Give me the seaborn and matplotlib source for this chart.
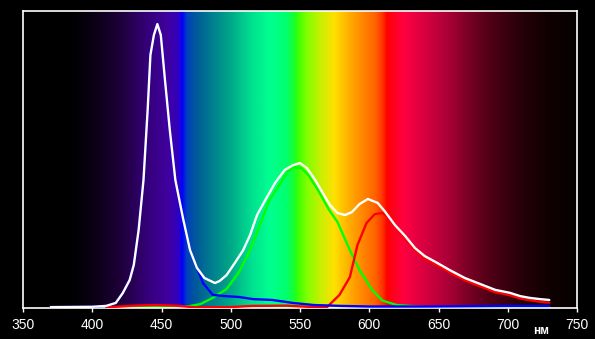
import numpy as np
import pandas as pd
import matplotlib
matplotlib.use("Agg")
import matplotlib.pyplot as plt
import seaborn as sns
from matplotlib.colors import LinearSegmentedColormap, to_rgb

# ---- data (relative intensity, 0..1) ----
white_nm = [370, 400, 410, 417, 422, 427, 430, 433.5, 437, 440, 442, 444.5, 447, 449.5, 452.5, 456, 460,
            465.5, 470.6, 475.6, 481, 488.6, 492, 497, 503, 509, 514, 519, 525, 532, 539, 545, 550, 555, 561,
            566, 571.6, 577, 582.5, 587.5, 593, 599, 606, 611, 618.6, 626, 633, 640, 649, 658, 669, 680,
            691, 701.6, 709, 716, 723, 730]
white_val = [0.003, 0.004, 0.007, 0.017, 0.050, 0.094, 0.145, 0.263, 0.431, 0.667, 0.852, 0.919, 0.956,
             0.919, 0.768, 0.599, 0.431, 0.303, 0.195, 0.135, 0.101, 0.084, 0.091, 0.111, 0.152, 0.195,
             0.246, 0.313, 0.364, 0.421, 0.465, 0.481, 0.488, 0.471, 0.431, 0.391, 0.347, 0.320, 0.313,
             0.323, 0.350, 0.367, 0.354, 0.327, 0.279, 0.242, 0.202, 0.175, 0.152, 0.128, 0.101, 0.081,
             0.061, 0.051, 0.040, 0.034, 0.030, 0.027]

blue_nm = [370, 400, 410, 417, 422, 427, 430, 433.5, 437, 440, 442, 444.5, 447, 449.5, 452.5, 456, 460,
           465.5, 470.6, 475.6, 480, 487, 496, 506, 516, 530, 545, 560, 580, 600, 640, 700, 730]
blue_val = [0.003, 0.004, 0.007, 0.017, 0.050, 0.094, 0.145, 0.263, 0.431, 0.667, 0.852, 0.919, 0.956,
            0.919, 0.768, 0.599, 0.431, 0.303, 0.195, 0.135, 0.084, 0.044, 0.040, 0.037, 0.030, 0.027,
            0.017, 0.010, 0.007, 0.005, 0.005, 0.007, 0.007]

green_nm = [400, 460, 465, 478, 487, 497, 506, 514, 521, 528, 535, 541, 546, 551, 556, 563, 571, 577,
            586, 593, 602, 609.5, 620, 640, 730]
green_val = [0.002, 0.003, 0.002, 0.013, 0.034, 0.064, 0.121, 0.195, 0.279, 0.364, 0.414, 0.458, 0.475,
             0.471, 0.448, 0.397, 0.330, 0.290, 0.195, 0.128, 0.061, 0.025, 0.010, 0.003, 0.002]

red_nm = [410, 430, 445, 460, 475, 500, 515, 540, 560, 569.5, 578.5, 586, 591.5, 598, 604, 609.5, 614.5,
          621.5, 626, 633, 640, 649, 658, 669, 680, 691, 701.6, 709, 716, 723, 730]
red_val = [0.002, 0.008, 0.010, 0.008, 0.002, 0.003, 0.007, 0.008, 0.003, 0.003, 0.044, 0.104, 0.212,
           0.286, 0.316, 0.320, 0.303, 0.256, 0.232, 0.194, 0.167, 0.144, 0.120, 0.093, 0.073, 0.053,
           0.043, 0.032, 0.026, 0.021, 0.018]

x_ticks = [350, 400, 450, 500, 550, 600, 650, 700, 750]

# ---- spectrum background ----
spec_stops = [
    (350, "#000000"), (385, "#000000"), (400, "#0a0014"), (420, "#1e0038"), (440, "#35007a"),
    (455, "#4000a0"), (462, "#3000c0"), (465, "#0000ff"), (468, "#0040c0"), (475, "#005a98"),
    (485, "#007a90"), (500, "#00a888"), (515, "#00e090"), (528, "#00ff90"), (540, "#00ff70"),
    (547, "#20ff20"), (549, "#40ff00"), (555, "#80ff00"), (565, "#c8f000"), (575, "#ffe000"),
    (585, "#ffb000"), (595, "#ff8800"), (605, "#ff6000"), (610, "#ff3000"), (613, "#ff0000"),
    (618, "#ff0020"), (625, "#ff0040"), (640, "#d80040"), (655, "#b00038"), (670, "#800028"),
    (685, "#550018"), (700, "#380010"), (715, "#200006"), (730, "#100000"), (750, "#050000"),
]
cmap = LinearSegmentedColormap.from_list(
    "spec", [((w - 350) / 400, to_rgb(c)) for w, c in spec_stops], N=1024)

sns.set_theme(style="dark")
plt.rcParams["font.family"] = ["Liberation Sans", "DejaVu Sans"]

fig = plt.figure(figsize=(5.95, 3.39), dpi=100, facecolor="black")
ax = fig.add_axes([23 / 595, 31 / 339, 554 / 595, 297 / 339])
ax.set_facecolor("black")

grad = np.linspace(0, 1, 1200)[None, :]
ax.imshow(grad, extent=[350, 750, 0, 1], aspect="auto", cmap=cmap, origin="lower",
          interpolation="bilinear", zorder=0)

series = [
    (green_nm, green_val, "#00ff00", 2),
    (red_nm, red_val, "#ff0000", 3),
    (blue_nm, blue_val, "#0000ff", 4),
    (white_nm, white_val, "#ffffff", 5),
]
for nm, val, col, z in series:
    df = pd.DataFrame({"nm": nm, "val": val})
    sns.lineplot(data=df, x="nm", y="val", ax=ax, color=col, linewidth=1.7, zorder=z)

ax.set_xlim(350, 750)
ax.set_ylim(0, 1)
ax.set_xticks(x_ticks)
ax.set_xticklabels([str(t) for t in x_ticks])
ax.set_yticks([])
ax.set_xlabel("")
ax.set_ylabel("")
ax.grid(False)
for s in ax.spines.values():
    s.set_color("white")
    s.set_linewidth(1.2)
    s.set_visible(True)
ax.tick_params(axis="x", colors="white", labelcolor="white", labelsize=10, length=3,
               width=1, direction="out", pad=4, bottom=True)

fig.text(541 / 595, 1 - 331 / 339, "нм", color="white", fontsize=8.5, fontweight="bold",
         ha="center", va="center")

fig.savefig("out.png", dpi=100, facecolor="black")
